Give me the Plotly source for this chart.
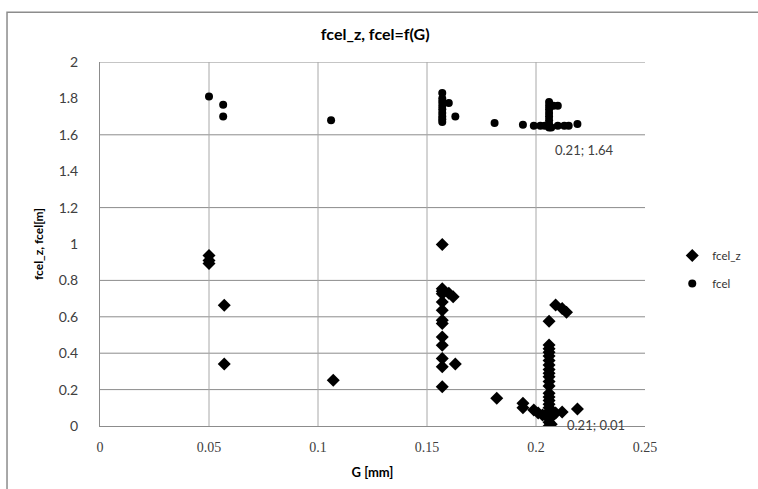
import plotly.graph_objects as go

# fcel_z series (diamonds)
fcel_z_G = [0.050, 0.050, 0.050, 0.057, 0.057, 0.107,
            0.157, 0.157, 0.157, 0.157, 0.157, 0.157, 0.157, 0.157, 0.157, 0.157, 0.157, 0.157, 0.157,
            0.160, 0.162, 0.163, 0.182, 0.194, 0.194,
            0.206, 0.206, 0.206, 0.206, 0.206, 0.206, 0.206, 0.206, 0.206, 0.206, 0.206, 0.206,
            0.206, 0.206, 0.206, 0.206, 0.206, 0.206, 0.206, 0.206, 0.206,
            0.209, 0.212, 0.214, 0.206,
            0.199, 0.201, 0.203, 0.209, 0.212, 0.219, 0.207, 0.207]
fcel_z_v = [0.937, 0.910, 0.893, 0.663, 0.340, 0.252,
            0.997, 0.754, 0.740, 0.727, 0.681, 0.636, 0.581, 0.563, 0.489, 0.444, 0.371, 0.325, 0.215,
            0.730, 0.710, 0.340, 0.153, 0.125, 0.100,
            0.445, 0.425, 0.405, 0.385, 0.360, 0.335, 0.310, 0.290, 0.270, 0.245, 0.220, 0.180,
            0.160, 0.140, 0.120, 0.100, 0.080, 0.060, 0.040, 0.020, 0.000,
            0.665, 0.645, 0.625, 0.575,
            0.088, 0.072, 0.060, 0.071, 0.077, 0.093, 0.050, 0.010]

# fcel series (circles)
fcel_G = [0.050, 0.0565, 0.0565, 0.106,
          0.157, 0.157, 0.157, 0.157, 0.157, 0.157, 0.157, 0.157, 0.157,
          0.160, 0.163, 0.181, 0.194,
          0.206, 0.206, 0.206, 0.206, 0.206, 0.206, 0.206, 0.206,
          0.208, 0.210, 0.199, 0.202, 0.204, 0.210, 0.213, 0.215, 0.219, 0.207]
fcel_v = [1.810, 1.765, 1.700, 1.680,
          1.830, 1.800, 1.780, 1.760, 1.740, 1.720, 1.700, 1.685, 1.670,
          1.775, 1.700, 1.665, 1.655,
          1.780, 1.760, 1.740, 1.720, 1.700, 1.680, 1.660, 1.640,
          1.760, 1.760, 1.650, 1.650, 1.650, 1.650, 1.650, 1.650, 1.660, 1.640]

x_tickvals = [0, 0.05, 0.1, 0.15, 0.2, 0.25]
x_ticktext = ["0", "0.05", "0.1", "0.15", "0.2", "0.25"]
y_tickvals = [0, 0.2, 0.4, 0.6, 0.8, 1, 1.2, 1.4, 1.6, 1.8, 2]
y_ticktext = ["0", "0.2", "0.4", "0.6", "0.8", "1", "1.2", "1.4", "1.6", "1.8", "2"]
h_grid = [0.2, 0.4, 0.6, 0.8, 1.2, 1.6, 2.0]
v_grid = [0.05, 0.1, 0.15, 0.2]

labels = [(0.207, 1.64, "0.21; 1.64", 2, -12, "top"),
          (0.207, 0.01, "0.21; 0.01", 14, -1, "middle")]

fig = go.Figure()
fig.add_trace(go.Scatter(x=fcel_z_G, y=fcel_z_v, mode="markers", name="fcel_z", legendgroup="a",
                         marker=dict(symbol="diamond", size=10, color="black")))
fig.add_trace(go.Scatter(x=fcel_G, y=fcel_v, mode="markers", name="fcel", legendgroup="b",
                         marker=dict(symbol="circle", size=8, color="black")))

shapes = []
for g in h_grid:
    shapes.append(dict(type="line", xref="x", yref="y", x0=0, x1=0.25, y0=g, y1=g,
                       line=dict(color="#8c8c8c", width=1), layer="below"))
for g in v_grid:
    shapes.append(dict(type="line", xref="x", yref="y", x0=g, x1=g, y0=0, y1=2,
                       line=dict(color="#a8a8a8", width=1), layer="below"))
# outer chart border
shapes.append(dict(type="path", xref="paper", yref="paper",
                   path="M -0.1706 -0.3 L -0.1706 1.137 L 1.3 1.137",
                   line=dict(color="#8c8c8c", width=1.5)))

annotations = []
for (ax, ay, txt, xs, ys, ya) in labels:
    annotations.append(dict(x=ax, y=ay, xref="x", yref="y", text=txt, showarrow=False,
                            xanchor="left", yanchor=ya, xshift=xs, yshift=ys,
                            font=dict(family="Lato", size=13, color="#404040")))

fig.update_layout(
    width=758, height=489,
    margin=dict(l=100, r=113, t=62, b=63),
    paper_bgcolor="white", plot_bgcolor="white",
    title=dict(text="<b>fcel_z, fcel=f(G)</b>", x=0.495, xanchor="center", y=0.93, yanchor="middle",
               font=dict(family="Lato", size=16, color="black")),
    showlegend=True,
    legend=dict(x=1.05, y=0.43, xanchor="left", yanchor="middle",
                font=dict(family="Lato", size=11.5, color="#333333"),
                bgcolor="rgba(0,0,0,0)", itemwidth=30, tracegroupgap=9),
    shapes=shapes,
    annotations=annotations,
)
fig.update_xaxes(range=[0, 0.25], tickvals=x_tickvals, ticktext=x_ticktext,
                 showgrid=False, zeroline=False, showline=True, linecolor="#8c8c8c",
                 ticks="", ticklen=0, ticklabelstandoff=8,
                 tickfont=dict(family="Liberation Serif", size=14, color="#404040"),
                 title=dict(text="<b>G [mm]</b>", standoff=14,
                            font=dict(family="Lato", size=13, color="black")))
fig.update_yaxes(range=[0, 2], tickvals=y_tickvals, ticktext=y_ticktext,
                 showgrid=False, zeroline=False, showline=True, linecolor="#8c8c8c",
                 ticks="", ticklen=0, ticklabelstandoff=18,
                 tickfont=dict(family="Lato", size=14, color="#404040"),
                 title=dict(text="<b>fcel_z, fcel[m]</b>", standoff=12,
                            font=dict(family="Lato", size=12, color="black")))

fig.write_html("out.html", config={"displayModeBar": False},
               post_script="document.body.style.margin='0';document.body.style.padding='0';")
